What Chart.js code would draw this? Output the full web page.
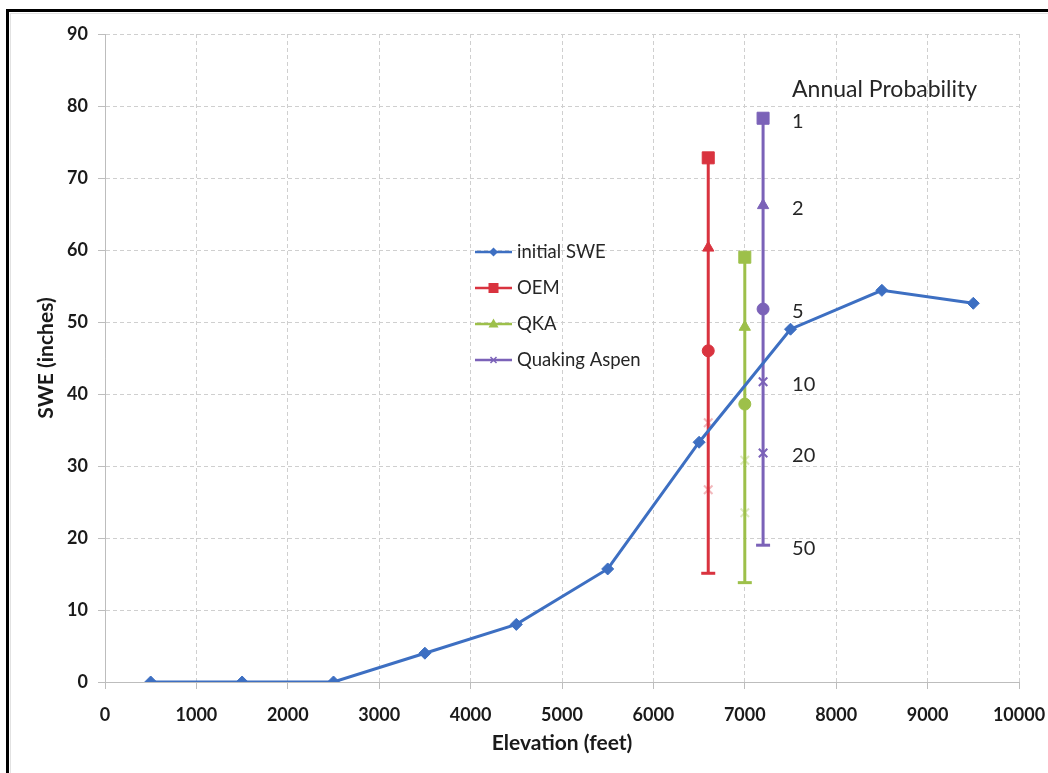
<!DOCTYPE html>
<html>
<head>
<meta charset="utf-8">
<script src="https://cdn.jsdelivr.net/npm/chart.js@4/dist/chart.umd.min.js"></script>
<style>
  html, body { margin: 0; padding: 0; background: #fff; }
  #wrap { position: absolute; left: 0; top: 0; width: 1048px; height: 773px; }
</style>
</head>
<body>
<div id="wrap"><canvas id="c" width="1048" height="773"></canvas></div>
<script>
// ---- data ----
const elevations = [500, 1500, 2500, 3500, 4500, 5500, 6500, 7500, 8500, 9500];
const initialSWE = [0, 0, 0, 4.0, 8.0, 15.7, 33.3, 49.0, 54.4, 52.6];

const probLabels = ['1', '2', '5', '10', '20', '50'];

const oemElevation = 6600;
const oemSWE = [72.8, 60.3, 46.0, 36.0, 26.7, 15.1];

const qkaElevation = 7000;
const qkaSWE = [59.0, 49.3, 38.6, 30.8, 23.5, 13.8];

const aspenElevation = 7200;
const aspenSWE = [78.3, 66.2, 51.8, 41.7, 31.8, 19.0];

const seriesNames = ['initial SWE', 'OEM', 'QKA', 'Quaking Aspen'];
const probTitle = 'Annual Probability';
const xTitle = 'Elevation (feet)';
const yTitle = 'SWE (inches)';

// ---- styles ----
const BLUE = '#3D6FC2', RED = '#D9333F', GREEN = '#9DC04A', PURPLE = '#7B62B8';
const FONT = 'Lato, "Open Sans", "DejaVu Sans", sans-serif';

function vertSeries(label, xv, ys, color, faint, faintIdx) {
  const borderCols = ys.map((v, i) => faintIdx.includes(i) ? faint : color);
  return {
    label,
    data: ys.map(y => ({ x: xv, y })),
    borderColor: color,
    backgroundColor: color,
    borderWidth: 3,
    showLine: true,
    tension: 0,
    pointStyle: ['rect', 'triangle', 'circle', 'crossRot', 'crossRot', 'line'],
    pointRadius: [8.5, 6.5, 6, 6, 6, 7],
    pointBorderWidth: [1, 1, 1, 2, 2, 3],
    pointBorderColor: borderCols,
    pointBackgroundColor: borderCols,
    pointHoverRadius: 0
  };
}

const datasets = [
  {
    label: seriesNames[0],
    data: elevations.map((e, i) => ({ x: e, y: initialSWE[i] })),
    borderColor: BLUE,
    backgroundColor: BLUE,
    borderWidth: 3,
    tension: 0,
    pointStyle: 'rectRot',
    pointRadius: 6,
    pointBorderWidth: 1,
    pointBackgroundColor: BLUE,
    pointBorderColor: BLUE
  },
  vertSeries(seriesNames[1], oemElevation, oemSWE, RED, 'rgba(217,51,63,0.35)', [3, 4]),
  vertSeries(seriesNames[2], qkaElevation, qkaSWE, GREEN, 'rgba(157,192,74,0.35)', [3, 4]),
  vertSeries(seriesNames[3], aspenElevation, aspenSWE, PURPLE, PURPLE, [])
];

// background + outer frame
const framePlugin = {
  id: 'frame',
  beforeDraw(chart) {
    const ctx = chart.ctx;
    ctx.save();
    ctx.fillStyle = '#fff';
    ctx.fillRect(0, 0, chart.width, chart.height);
    ctx.strokeStyle = '#e2e2e2';
    ctx.lineWidth = 1;
    ctx.strokeRect(10.5, 13.5, chart.width, chart.height);
    ctx.strokeStyle = '#000';
    ctx.lineWidth = 3;
    ctx.beginPath();
    ctx.moveTo(7, 10.5);
    ctx.lineTo(chart.width, 10.5);
    ctx.moveTo(7.5, 9);
    ctx.lineTo(7.5, chart.height);
    ctx.stroke();
    ctx.restore();
  }
};

function drawMarker(ctx, style, x, y, color) {
  ctx.save();
  ctx.fillStyle = color;
  ctx.strokeStyle = color;
  ctx.beginPath();
  if (style === 'diamond') {
    ctx.moveTo(x, y - 4.5); ctx.lineTo(x + 4.5, y); ctx.lineTo(x, y + 4.5); ctx.lineTo(x - 4.5, y); ctx.closePath(); ctx.fill();
  } else if (style === 'square') {
    ctx.rect(x - 5, y - 5, 10, 10); ctx.fill();
  } else if (style === 'triangle') {
    ctx.moveTo(x, y - 5.5); ctx.lineTo(x + 5, y + 3.5); ctx.lineTo(x - 5, y + 3.5); ctx.closePath(); ctx.fill();
  } else if (style === 'x') {
    ctx.lineWidth = 1.5;
    ctx.moveTo(x - 3, y - 3); ctx.lineTo(x + 3, y + 3); ctx.moveTo(x + 3, y - 3); ctx.lineTo(x - 3, y + 3); ctx.stroke();
  }
  ctx.restore();
}

const annotPlugin = {
  id: 'annot',
  afterDraw(chart) {
    const ctx = chart.ctx;
    const xs = chart.scales.x, ys = chart.scales.y;
    const ca = chart.chartArea;
    ctx.save();
    // Annual probability labels
    const lx = xs.getPixelForValue(aspenElevation) + 29;
    ctx.fillStyle = '#262626';
    ctx.textBaseline = 'middle';
    ctx.textAlign = 'left';
    ctx.font = '23px ' + FONT;
    ctx.fillText(probTitle, lx, ys.getPixelForValue(aspenSWE[0]) - 29);
    ctx.font = '20px ' + FONT;
    aspenSWE.forEach((v, i) => {
      ctx.fillText(probLabels[i], lx, ys.getPixelForValue(v) + 3);
    });

    // legend
    const colors = [BLUE, RED, GREEN, PURPLE];
    const markers = ['diamond', 'square', 'triangle', 'x'];
    const x0 = ca.left + 370, y0 = ca.top + 218;
    ctx.font = '18.5px ' + FONT;
    chart.data.datasets.forEach((ds, i) => {
      const y = y0 + i * 36;
      ctx.strokeStyle = colors[i];
      ctx.lineWidth = 2.5;
      ctx.beginPath();
      ctx.moveTo(x0, y);
      ctx.lineTo(x0 + 37, y);
      ctx.stroke();
      drawMarker(ctx, markers[i], x0 + 18.5, y, colors[i]);
      ctx.fillStyle = '#262626';
      ctx.fillText(ds.label, x0 + 42, y);
    });
    ctx.restore();
  }
};

const plainTick = v => String(v);

new Chart(document.getElementById('c'), {
  type: 'line',
  data: { datasets },
  options: {
    responsive: false,
    animation: false,
    events: [],
    layout: { padding: { left: 0, top: 34, right: 29, bottom: 0 } },
    plugins: { legend: { display: false }, tooltip: { enabled: false } },
    scales: {
      x: {
        type: 'linear',
        min: 0, max: 10000,
        afterFit(s) { s.height = 91; s.paddingRight = 20; s.paddingLeft = 10; },
        ticks: { stepSize: 1000, callback: plainTick, color: '#1a1a1a', font: { family: FONT, size: 18, weight: 'bold' }, padding: 15, maxRotation: 0 },
        grid: { color: '#cfcfcf', lineWidth: 1, tickLength: 7, tickColor: '#bdbdbd' },
        border: { color: '#bdbdbd', width: 1, dash: [4, 3] },
        title: { display: true, text: xTitle, color: '#1a1a1a', font: { family: FONT, size: 21, weight: 'bold' }, padding: { top: 0, bottom: 17 } }
      },
      y: {
        type: 'linear',
        min: 0, max: 90,
        afterFit(s) { s.width = 105; },
        ticks: { stepSize: 10, callback: plainTick, color: '#1a1a1a', font: { family: FONT, size: 18, weight: 'bold' }, padding: 10 },
        grid: { color: '#cfcfcf', lineWidth: 1, tickLength: 7, tickColor: '#bdbdbd' },
        border: { color: '#bdbdbd', width: 1, dash: [4, 3] },
        title: { display: true, text: yTitle, color: '#1a1a1a', font: { family: FONT, size: 21, weight: 'bold' }, padding: { top: 34, bottom: 0 } }
      }
    }
  },
  plugins: [framePlugin, annotPlugin]
});
</script>
</body>
</html>
